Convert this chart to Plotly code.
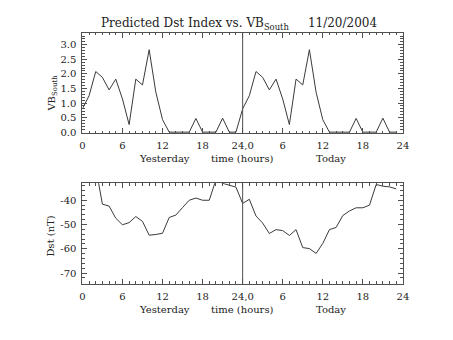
import plotly.graph_objects as go

hours = list(range(48))
vb_south = [0.80, 1.25, 2.08, 1.88, 1.45, 1.82, 1.14, 0.26, 1.82, 1.62, 2.83, 1.37,
            0.43, 0.0, 0.0, 0.0, 0.0, 0.47, 0.0, 0.0, 0.0, 0.48, 0.0, 0.0,
            0.80, 1.25, 2.08, 1.88, 1.45, 1.82, 1.14, 0.26, 1.82, 1.62, 2.83, 1.37,
            0.43, 0.0, 0.0, 0.0, 0.0, 0.47, 0.0, 0.0, 0.0, 0.48, 0.0, 0.0]
dst = [-25.0, -25.5, -26.5, -41.6, -42.4, -47.4, -50.1, -49.2, -46.7, -48.7, -54.4, -54.1,
       -53.6, -47.1, -46.1, -43.0, -40.0, -39.1, -40.0, -40.0, -31.5, -33.0, -33.7, -34.6,
       -41.3, -39.6, -46.5, -49.4, -53.7, -52.1, -52.5, -54.5, -52.1, -59.5, -59.9, -61.9,
       -57.8, -52.1, -51.2, -46.3, -44.4, -43.1, -43.1, -42.0, -33.5, -34.2, -34.5, -35.3]
x_tickvals = [0, 6, 12, 18, 24, 30, 36, 42, 48]
x_ticktext = ["0", "6", "12", "18", "24,0", "6", "12", "18", "24"]
vb_ticks = [0.0, 0.5, 1.0, 1.5, 2.0, 2.5, 3.0]
dst_ticks = [-70, -60, -50, -40]

W, H = 453, 340
FONT = "DejaVu Serif"
AX = "#505050"
LN = "#3a3a3a"
FS = 10

fig = go.Figure()
fig.add_trace(go.Scatter(x=hours, y=vb_south, mode="lines", line=dict(color=LN, width=1),
                         xaxis="x", yaxis="y", showlegend=False))
fig.add_trace(go.Scatter(x=hours, y=dst, mode="lines", line=dict(color=LN, width=1),
                         xaxis="x2", yaxis="y2", showlegend=False))

L, R = 81, 408
def ydom(top, bot):
    return [1 - bot / H, 1 - top / H]

xcommon = dict(range=[0, 48], tickvals=x_tickvals, ticktext=x_ticktext, ticks="inside",
               ticklen=5, tickcolor=AX, showline=True, linecolor=AX, linewidth=1,
               mirror="ticks", showgrid=False, zeroline=False,
               tickfont=dict(family=FONT, size=FS, color="#222"),
               minor=dict(dtick=1, tick0=0, ticks="inside", ticklen=2.5, tickcolor=AX),
               ticklabelstandoff=3)
ycommon = dict(ticks="inside", ticklen=5, tickcolor=AX, showline=True, linecolor=AX,
               linewidth=1, mirror="ticks", showgrid=False, zeroline=False,
               tickfont=dict(family=FONT, size=FS, color="#222"), ticklabelstandoff=3)

fig.update_layout(
    width=W, height=H, margin=dict(l=0, r=0, t=0, b=0),
    paper_bgcolor="white", plot_bgcolor="white",
    xaxis=dict(domain=[L / W, R / W], anchor="y", **xcommon),
    yaxis=dict(domain=ydom(33, 135), anchor="x", range=[-0.03, 3.42], tickvals=vb_ticks,
               ticktext=[f"{v:.1f}" for v in vb_ticks],
               minor=dict(dtick=0.1, tick0=0, ticks="inside", ticklen=2.5, tickcolor=AX),
               **ycommon),
    xaxis2=dict(domain=[L / W, R / W], anchor="y2", **xcommon),
    yaxis2=dict(domain=ydom(186, 288), anchor="x2", range=[-74.4, -33.0], tickvals=dst_ticks,
                ticktext=[str(v) for v in dst_ticks],
                minor=dict(dtick=2, tick0=0, ticks="inside", ticklen=2.5, tickcolor=AX),
                **ycommon),
)

for xr, yr in (("x", "y"), ("x2", "y2")):
    fig.add_shape(type="line", x0=24, x1=24, y0=0, y1=1, xref=xr, yref=yr + " domain",
                  line=dict(color=AX, width=1))

def ann(text, px, py, size=FS, angle=0):
    fig.add_annotation(text=text, x=px / W, y=1 - py / H, xref="paper", yref="paper",
                       showarrow=False, textangle=angle, xanchor="center", yanchor="middle",
                       font=dict(family=FONT, size=size, color="#222"))

ann("Predicted Dst Index vs. VB<sub>South</sub>\u00a0\u00a0\u00a0\u00a0\u00a011/20/2004", 241, 24, size=12)
ann("VB<sub>South</sub>", 51, 94, angle=-90)
ann("Dst (nT)", 48, 240, angle=-90)
for py in (161, 314):
    ann("Yesterday", 165, py)
    ann("time (hours)", 244, py)
    ann("Today", 335, py)

fig.write_html("out.html")
